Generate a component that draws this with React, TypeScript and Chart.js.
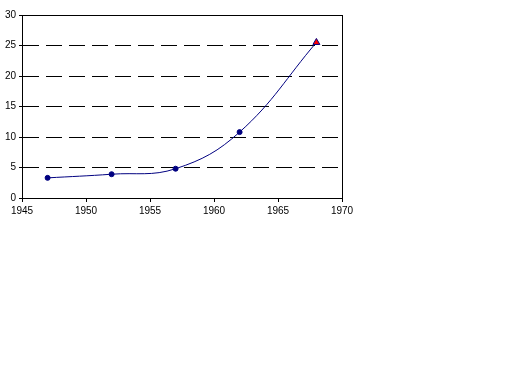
import React, { useEffect, useRef } from "react";
import { Chart, registerables } from "chart.js";

Chart.register(...registerables);

const years = [1947, 1952, 1957, 1962, 1968];
const values = [3.3, 3.9, 4.8, 10.8, 25.5];
const pointStyles = ["circle", "circle", "circle", "circle", "triangle"];
const pointFills = ["#000080", "#000080", "#000080", "#000080", "#ff0000"];
const pointSizes = [2.5, 2.5, 2.5, 2.5, 4];

const frame = {
  id: "frame",
  afterDatasetsDraw(chart: any) {
    const a = chart.chartArea;
    const ctx = chart.ctx;
    ctx.save();
    ctx.strokeStyle = "#000";
    ctx.lineWidth = 1;
    ctx.setLineDash([]);
    ctx.strokeRect(Math.round(a.left) + 0.5, Math.round(a.top) + 0.5, Math.round(a.right - a.left), Math.round(a.bottom - a.top));
    ctx.restore();
  },
};

export default function App() {
  const ref = useRef<HTMLCanvasElement>(null);
  useEffect(() => {
    const chart = new Chart(ref.current!, {
      type: "line",
      data: {
        datasets: [
          {
            data: years.map((y, i) => ({ x: y, y: values[i] })),
            borderColor: "#000080",
            borderWidth: 1,
            tension: 0.4,
            pointStyle: pointStyles as any,
            pointBackgroundColor: pointFills,
            pointBorderColor: "#000080",
            pointBorderWidth: 1,
            pointRadius: pointSizes,
          },
        ],
      },
      options: {
        responsive: false,
        animation: false,
        layout: { padding: { left: 0, top: 15, right: 170, bottom: 166 } },
        plugins: { legend: { display: false }, tooltip: { enabled: false } },
        scales: {
          x: {
            type: "linear",
            min: 1945,
            max: 1970,
            ticks: {
              stepSize: 5,
              color: "#000",
              font: { family: "Liberation Sans", size: 10 },
              padding: 3,
              callback: (v: any) => String(v),
            },
            grid: { drawOnChartArea: false, drawTicks: true, tickLength: 4, color: "#000" },
            border: { color: "#000", width: 1 },
            afterFit: (s: any) => { s.height = 20; },
          },
          y: {
            min: 0,
            max: 30,
            ticks: {
              stepSize: 5,
              color: "#000",
              font: { family: "Liberation Sans", size: 10 },
              padding: 3,
            },
            grid: {
              color: "#000",
              lineWidth: 1,
              tickLength: 3,
              tickColor: "#000",
              tickBorderDash: [],
            } as any,
            border: { color: "#000", width: 1, dash: [16, 7] } as any,
            afterFit: (s: any) => { s.width = 22; },
          },
        },
      },
      plugins: [frame],
    });
    return () => chart.destroy();
  }, []);
  return (
    <div style={{ position: "fixed", left: 0, top: 0, width: 512, height: 384, background: "#fff" }}>
      <canvas ref={ref} width={512} height={384} />
    </div>
  );
}
